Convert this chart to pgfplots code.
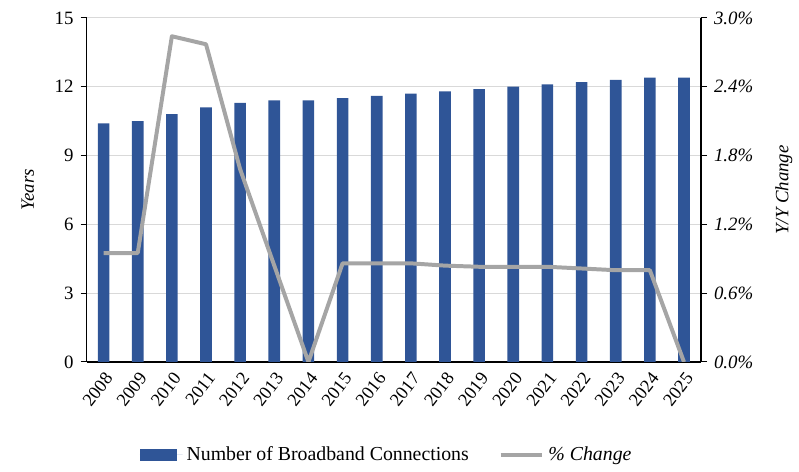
\documentclass[border=0pt]{standalone}
\usepackage{pgfplots}
\pgfplotsset{compat=1.18}
\usepackage{fontspec}
\setmainfont{Liberation Serif}
\definecolor{barblue}{HTML}{2F5597}
\definecolor{linegray}{HTML}{A5A5A5}
\definecolor{gridgray}{HTML}{D9D9D9}
\pgfplotstableread{
x year conn chg
0  2008 10.4 0.95
1  2009 10.5 0.95
2  2010 10.8 2.84
3  2011 11.1 2.77
4  2012 11.3 1.68
5  2013 11.4 0.84
6  2014 11.4 0.00
7  2015 11.5 0.86
8  2016 11.6 0.86
9  2017 11.7 0.86
10 2018 11.8 0.84
11 2019 11.9 0.83
12 2020 12.0 0.83
13 2021 12.1 0.83
14 2022 12.2 0.815
15 2023 12.3 0.80
16 2024 12.4 0.80
17 2025 12.4 0.00
}\datatable
\pgfplotsset{
  base/.style={
    scale only axis, width=309bp, height=173bp,
    xmin=-0.5, xmax=17.5,
    ymin=0,
    tick align=outside,
    major tick length=3bp,
    tick style={black, line width=0.5pt},
    axis line style={black, line width=0.6pt},
    /pgf/number format/assume math mode=true,
    tick label style={font=\fontsize{9.5}{11}\selectfont},
    label style={font=\fontsize{9.5}{11}\selectfont\itshape},
  },
}
\begin{document}
\begin{tikzpicture}
\begin{axis}[base, name=main,
  ymax=15, ytick={0,3,...,15},
  axis x line*=bottom, axis y line*=left,
  xtick={0,...,17}, xticklabels from table={\datatable}{year},
  x tick style={draw=none},
  xticklabel style={rotate=52, anchor=north east, inner sep=1pt, font=\fontsize{9.2}{11}\selectfont},
  extra x ticks={-0.5,0.5,...,17.5}, extra x tick labels={},
  extra x tick style={tick style={black, line width=0.5pt}, grid=none},
  ymajorgrids, grid style={gridgray, line width=0.6pt},
  ylabel={Years},
  ylabel style={at={(axis description cs:-0.074,0.5)}, anchor=south},
  legend style={at={(0.49,-0.27)}, anchor=center, draw=none, fill=none,
    legend columns=2, font=\fontsize{10}{12}\selectfont,
    /tikz/every even column/.append style={column sep=13bp}},
  legend image code/.code={\path (0bp,0bp) -- (21.5bp,0bp);
    \fill[#1] (0cm,-3bp) rectangle (18.5bp,3bp);},
]
\addplot[ybar, bar width=0.34, fill=barblue, draw=none] table[x=x, y=conn] {\datatable};
\addlegendentry{Number of Broadband Connections}
\addlegendimage{line legend, linegray, line width=2bp,
  legend image code/.code={\draw[linegray, line width=2bp] (0cm,0cm) -- (21bp,0cm);}}
\addlegendentry{\itshape\% Change}
\end{axis}
\begin{axis}[base,
  ymax=3, ytick={0,0.6,...,3.01},
  axis x line=none, axis y line*=right,
  yticklabel={\pgfmathprintnumber[fixed,fixed zerofill,precision=1]{\tick}\%},
  yticklabel style={font=\fontsize{9.5}{11}\selectfont\itshape},
  ylabel={Y/Y Change},
  ylabel style={at={(axis description cs:1.16,0.5)}, anchor=south, rotate=0},
]
\addplot[linegray, line width=2bp, line join=round, mark=none] table[x=x, y=chg] {\datatable};
\end{axis}
\path ([xshift=-43.5bp, yshift=-52.5bp]main.south west) rectangle ([xshift=47bp, yshift=9bp]main.north east);
\end{tikzpicture}
\end{document}
